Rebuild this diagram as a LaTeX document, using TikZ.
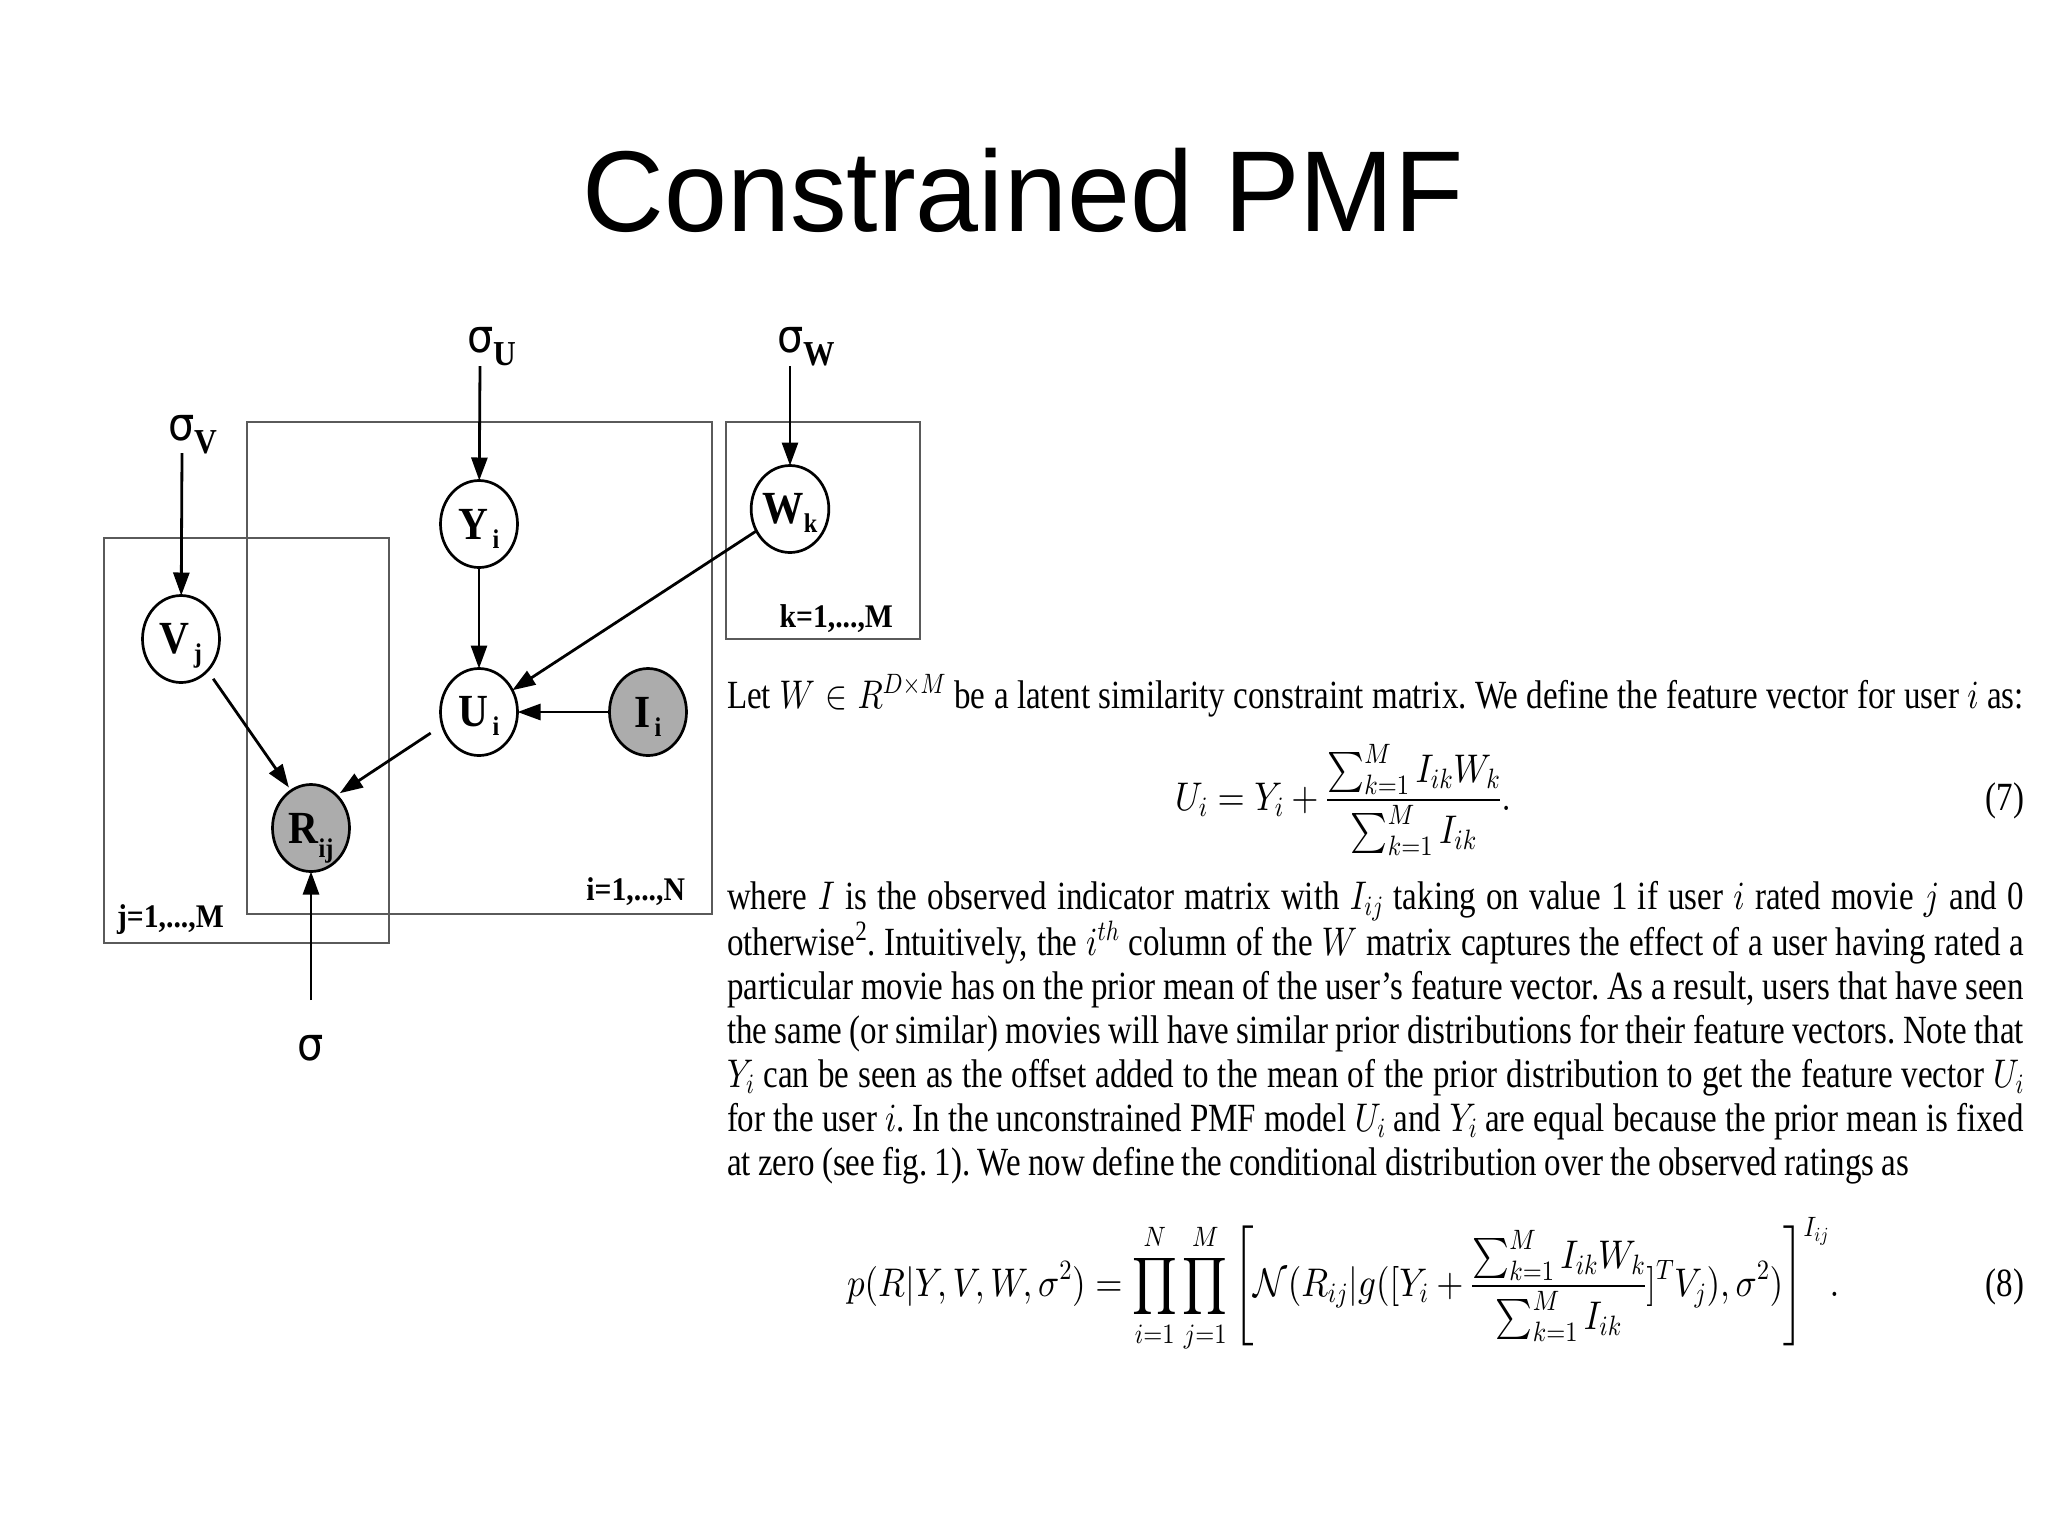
\documentclass[tikz,border=0pt]{standalone}
\usepackage[no-math]{fontspec}
\setmainfont{Liberation Serif}
\newfontfamily\titlefont{Liberation Sans}
\newfontfamily\sigfont{DejaVu Sans}
\usepackage{graphicx}
\DeclareFontShape{OT1}{cmr}{m}{n}{<->cmr10}{}
\DeclareFontShape{OML}{cmm}{m}{it}{<->cmmi10}{}
\DeclareFontShape{OMS}{cmsy}{m}{n}{<->cmsy10}{}
\DeclareFontShape{OMX}{cmex}{m}{n}{<->cmex10}{}
\usetikzlibrary{arrows.meta,shapes.geometric}
\definecolor{obsgray}{RGB}{172,172,172}
\definecolor{plategray}{RGB}{90,90,90}
\newcommand{\sqz}[1]{\scalebox{0.9}[1]{#1}}
\newcommand{\txq}[1]{\scalebox{0.825}[1]{#1}}
\newcommand{\eqq}[1]{\scalebox{0.875}[1]{#1}}
\newcommand{\txf}{\fontsize{40}{44}\selectfont\spaceskip=0.22em plus 0.3em minus 0.08em\xspaceskip=\spaceskip}
\newcommand{\jl}[1]{\hbox to 1572pt{#1}}
\newcommand{\nlab}[3]{\sqz{\fontsize{46}{46}\selectfont\bfseries #1\smash{\raisebox{-#3pt}{\fontsize{27}{27}\selectfont #2}}}}
\newcommand{\slab}[1]{\sqz{\fontsize{46}{46}\selectfont{\sigfont σ}\smash{\raisebox{-13pt}{\fontsize{35}{35}\selectfont\bfseries #1}}}}
\newcommand{\plab}[1]{\sqz{\fontsize{33}{33}\selectfont\bfseries #1}}
\begin{document}
\begin{tikzpicture}[x=1pt,y=-1pt,
  every node/.style={inner sep=0pt,outer sep=0pt},
  rv/.style={draw=black,line width=2.7pt,ellipse,minimum width=77pt,minimum height=87pt,fill=white},
  obs/.style={rv,fill=obsgray},
  plate/.style={draw=plategray,line width=1.6pt},
  arr/.style={line width=2.8pt,-{Triangle[length=23pt,width=16pt]}}]
\useasboundingbox (0,0) rectangle (2048,1535);
% title
\node[anchor=base] (title) at (1023,231) {\scalebox{0.985}[1]{\titlefont\fontsize{115}{115}\selectfont Constrained PMF}};
% plates
\draw[plate] (247,422) rectangle (712,914);
\draw[plate] (104,538) rectangle (389,943);
\draw[plate] (726,422) rectangle (920,639);
\node[anchor=base east] (pi) at (685,900) {\plab{i=1,...,N}};
\node[anchor=base west] (pj) at (117,927) {\plab{j=1,...,M}};
\node[anchor=base east] (pk) at (893,627) {\plab{k=1,...,M}};
% random variables
\node[rv] (Yn) at (479,524) {\nlab{Y}{\,i}{9}};
\node[rv] (Un) at (479,712) {\nlab{U}{\,i}{9}};
\node[obs] (In) at (648,712) {\nlab{I}{\,i}{9}};
\node[rv] (Vn) at (181,639) {\nlab{V}{\,j}{9}};
\node[obs] (Rn) at (311,828) {\nlab{R}{ij}{14}};
\node[rv] (Wn) at (790,509) {\nlab{W}{k}{9}};
% hyperparameters
\node[anchor=base west] (sU) at (467,352) {\slab{U}};
\node[anchor=base west] (sV) at (168,440) {\slab{V}};
\node[anchor=base west] (sW) at (777,352) {\slab{W}};
\node[anchor=base] (sR) at (311,1060) {\sqz{\fontsize{46}{46}\selectfont\sigfont σ}};
\coordinate (sUa) at (480,366);
\coordinate (sVa) at (182,453);
\coordinate (sWa) at (790,366);
\coordinate (sRa) at (311,1000);
% edges
\draw[arr] (sUa) -- (Yn);
\draw[arr] (sVa) -- (Vn);
\draw[arr] (sWa) -- (Wn);
\draw[arr] (sRa) -- (Rn);
\draw[arr] (Yn) -- (Un);
\draw[arr] (Wn) -- (Un);
\draw[arr] (In) -- (Un);
\draw[arr,shorten <=14pt,shorten >=4pt] (Un.200) -- (Rn.52);
\draw[arr,shorten <=10pt,shorten >=4pt] (Vn.-50) -- (Rn.118);
% text
\node[anchor=base west] (let) at (727,708) {\txq{\vtop{\txf\jl{Let $W\in R^{D\times M}$ be a latent similarity constraint matrix. We define the feature vector for user $i$ as:}}}};
\node[anchor=base west] (eq7) at (1175,810) {\eqq{\txf$\displaystyle U_i = Y_i + \frac{\sum_{k=1}^M I_{ik}W_k}{\sum_{k=1}^M I_{ik}}.$}};
\node[anchor=base east] (n7) at (2024,810) {\txq{\txf(7)}};
\node[anchor=base west] (para) at (727,909) {\txq{\vtop{\txf
\jl{where $I$ is the observed indicator matrix with $I_{ij}$ taking on value 1 if user $i$ rated movie $j$ and 0}
\jl{otherwise\textsuperscript{2}. Intuitively, the $i^{th}$ column of the $W$ matrix captures the effect of a user having rated a}
\jl{particular movie has on the prior mean of the user’s feature vector. As a result, users that have seen}
\jl{the same (or similar) movies will have similar prior distributions for their feature vectors. Note that}
\jl{$Y_i$ can be seen as the offset added to the mean of the prior distribution to get the feature vector $U_i$}
\jl{for the user $i$. In the unconstrained PMF model $U_i$ and $Y_i$ are equal because the prior mean is fixed}
\hbox{at zero (see fig. 1). We now define the conditional distribution over the observed ratings as}}}};
\node[anchor=base west] (eq8) at (847,1296) {\eqq{\txf$\displaystyle p(R|Y,V,W,\sigma^2) = \prod_{i=1}^N\prod_{j=1}^M \left[\mathcal{N}\big(R_{ij}|g\big([Y_i + \frac{\sum_{k=1}^M I_{ik}W_k}{\sum_{k=1}^M I_{ik}}]^T V_j\big),\sigma^2\big)\right]^{I_{ij}}\!.$}};
\node[anchor=base east] (n8) at (2024,1296) {\txq{\txf(8)}};
\end{tikzpicture}
\end{document}
